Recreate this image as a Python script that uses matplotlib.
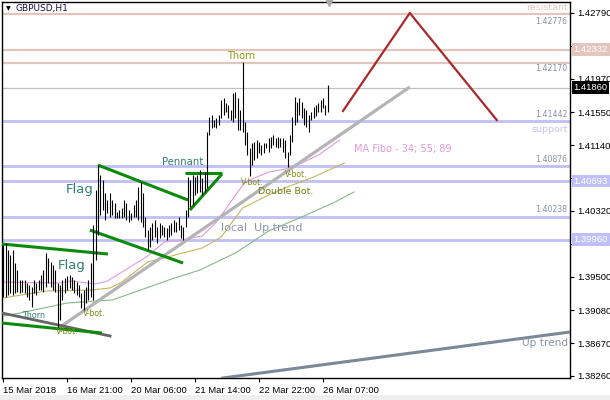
import matplotlib
matplotlib.use('Agg')
import matplotlib.pyplot as plt
from matplotlib.patches import Rectangle

# ---------------- data ----------------
highs = [
    1.39894, 1.39919, 1.39832, 1.39769, 1.39832, 1.39670, 1.39582, 1.39457, 1.39457, 1.39457,
    1.39420, 1.39395, 1.39370, 1.39457, 1.39420, 1.39457, 1.39520, 1.39582, 1.39794, 1.39732,
    1.39682, 1.39645, 1.39582, 1.39420, 1.39395, 1.39457, 1.39482, 1.39507, 1.39520, 1.39495,
    1.39457, 1.39432, 1.39395, 1.39295, 1.39332, 1.39370, 1.39457, 1.39670, 1.40143, 1.40580,
    1.40892, 1.40767,
    1.40705, 1.40543, 1.40456, 1.40543, 1.40456, 1.40418, 1.40306, 1.40331, 1.40356, 1.40456,
    1.40418, 1.40331, 1.40293, 1.40393, 1.40456, 1.40618, 1.40680, 1.40543, 1.40243, 1.40081,
    1.40118, 1.40168, 1.40206, 1.40118, 1.40168, 1.40143, 1.40118, 1.40106, 1.40143, 1.40168,
    1.40206, 1.40181, 1.40243, 1.40143, 1.40118, 1.40331, 1.40743,
    1.40705, 1.40767, 1.40743, 1.40767, 1.40830, 1.40730, 1.40805, 1.41305, 1.41492, 1.41517,
    1.41454, 1.41479, 1.41517, 1.41704, 1.41729, 1.41667, 1.41642, 1.41579, 1.41791, 1.41804,
    1.41729, 1.41579, 1.42178, 1.41429, 1.41305, 1.41105, 1.41167, 1.41180, 1.41205, 1.41180,
    1.41142, 1.41167, 1.41167, 1.41230, 1.41242, 1.41267, 1.41230, 1.41242, 1.41230, 1.41230,
    1.41205, 1.41055, 1.41267, 1.41492, 1.41741, 1.41679, 1.41729, 1.41679, 1.41604, 1.41579,
    1.41517, 1.41554, 1.41617, 1.41642, 1.41667, 1.41704, 1.41729, 1.41642, 1.41891,
]
lows = [
    1.39245, 1.39245, 1.39270, 1.39295, 1.39270, 1.39295, 1.39307, 1.39295, 1.39307, 1.39295,
    1.39245, 1.39208, 1.39120, 1.39295, 1.39270, 1.39332, 1.39332, 1.39307, 1.39370, 1.39420,
    1.39370, 1.39332, 1.39307, 1.38871, 1.38958, 1.39208, 1.39295, 1.39332, 1.39357, 1.39332,
    1.39295, 1.39270, 1.39245, 1.39108, 1.39083, 1.39170, 1.39208, 1.39245, 1.39208, 1.39707,
    1.40019, 1.40268,
    1.40331, 1.40206, 1.40293, 1.40243, 1.40268, 1.40231, 1.40231, 1.40231, 1.40231, 1.40243,
    1.40206, 1.40181, 1.40206, 1.40243, 1.40243, 1.40206, 1.40181, 1.40118, 1.39994, 1.39832,
    1.39869, 1.39956, 1.39994, 1.39919, 1.39981, 1.40019, 1.39994, 1.39956, 1.39994, 1.40019,
    1.40056, 1.40056, 1.40081, 1.39981, 1.39956, 1.40118, 1.40243,
    1.40368, 1.40393, 1.40518, 1.40543, 1.40555, 1.40518, 1.40555, 1.40605, 1.41267, 1.41354,
    1.41367, 1.41354, 1.41392, 1.41479, 1.41517, 1.41554, 1.41479, 1.41454, 1.41429, 1.41479,
    1.41330, 1.41330, 1.41305, 1.41142, 1.41017, 1.40755, 1.40892, 1.40955, 1.40980, 1.41042,
    1.41017, 1.41042, 1.41105, 1.41055, 1.41105, 1.41142, 1.41117, 1.41105, 1.41117, 1.41055,
    1.40980, 1.40867, 1.41017, 1.41180, 1.41392, 1.41429, 1.41517, 1.41479, 1.41392, 1.41367,
    1.41305, 1.41454, 1.41479, 1.41504, 1.41554, 1.41554, 1.41604, 1.41517, 1.41554,
]

# moving averages (MA Fibo 34 / 55 / 89), read at a few bars
ma34_idx = [0, 23, 29, 39, 44, 61, 68, 75, 84, 90, 96, 102, 106, 112, 119, 126, 133, 142]
ma34 = [1.39432, 1.39420, 1.39445, 1.39408, 1.39445, 1.39757, 1.39932, 1.39956, 1.40007,
        1.40181, 1.40431, 1.40680, 1.40730, 1.40805, 1.40843, 1.40918, 1.41017, 1.41205]
ma55_idx = [0, 18, 37, 45, 50, 61, 84, 92, 101, 112, 121, 131, 144]
ma55 = [1.39233, 1.39320, 1.39333, 1.39358, 1.39432, 1.39682, 1.39857, 1.39994, 1.40356,
        1.40518, 1.40631, 1.40743, 1.40918]
ma89_idx = [0, 7, 27, 46, 58, 71, 83, 98, 112, 126, 140, 148]
ma89 = [1.39008, 1.39046, 1.39171, 1.39208, 1.39333, 1.39470, 1.39582, 1.39795, 1.40069,
        1.40244, 1.40431, 1.40556]

# horizontal levels
resist_levels = [1.42776, 1.42332, 1.42170]
last_price = 1.41860
support_levels = [1.41442, 1.40876, 1.40693, 1.40238, 1.39960]

# trend / pattern lines: (bar index pairs, price pairs)
local_up_x, local_up_y = [24.0, 171.6], [1.38871, 1.41866]
dark_x, dark_y = [-0.5, 45.1], [1.39046, 1.38759]
flag1_lo_x, flag1_lo_y = [-0.5, 41.7], [1.38921, 1.38796]
flag1_hi_x, flag1_hi_y = [-0.5, 44.2], [1.39907, 1.39782]
flag2_hi_x, flag2_hi_y = [40.0, 78.0], [1.40892, 1.40456]
flag2_lo_x, flag2_lo_y = [36.6, 75.9], [1.40081, 1.39670]
penn_top_x, penn_top_y = [76.7, 92.3], [1.40793, 1.40793]
penn_lo_x, penn_lo_y = [78.8, 92.3], [1.40331, 1.40780]
proj_x, proj_y = [143.4, 171.6, 208.3], [1.41567, 1.42790, 1.41454]
uptrend_x, uptrend_y = [92.7, 239.2], [1.38235, 1.38809]

ytick_vals = [1.38260, 1.38670, 1.39080, 1.39500, 1.39910, 1.40320, 1.40730,
              1.41140, 1.41550, 1.41970, 1.42380, 1.42790]
# labels hidden behind the coloured price boxes in the reference
ytick_hidden = [1.39910, 1.40730, 1.42380]
xtick_idx = [0, 27, 54, 81, 108, 135]
xtick_labels = ['15 Mar 2018', '16 Mar 21:00', '20 Mar 06:00', '21 Mar 14:00',
                '22 Mar 22:00', '26 Mar 07:00']

# ---------------- figure ----------------
W, H = 610, 400
fig = plt.figure(figsize=(W / 100, H / 100), dpi=100)
fig.patch.set_facecolor('white')
ax = fig.add_axes([2 / W, 22 / H, 568 / W, 376 / H])
ax.set_xlim(-0.5, 239.2)
ax.set_ylim(1.38235, 1.42927)

RES_C = '#e2c6be'
SUP_C = '#c0c0f6'
TICK_FONT = 'Liberation Sans'

for p in resist_levels:
    ax.axhline(p, color=RES_C, lw=1.6, zorder=1)
for p in support_levels:
    ax.axhline(p, color=SUP_C, lw=2.0, zorder=1)
ax.axhline(last_price, color='#c0c0c0', lw=0.9, zorder=1)

# MAs
ax.plot(ma89_idx, ma89, color='#86b886', lw=0.8, zorder=2)
ax.plot(ma55_idx, ma55, color='#c8b460', lw=0.8, zorder=2)
ax.plot(ma34_idx, ma34, color='#e29ae2', lw=0.8, zorder=2)

# trend lines
ax.plot(local_up_x, local_up_y, color='#b4b4b4', lw=2.3, zorder=3, solid_capstyle='butt')
ax.plot(uptrend_x, uptrend_y, color='#7a8898', lw=2.2, zorder=3)
ax.plot(dark_x, dark_y, color='#666666', lw=2.0, zorder=3)
G = '#0c8a0c'
for xs, ys in [(flag1_lo_x, flag1_lo_y), (flag1_hi_x, flag1_hi_y),
               (flag2_hi_x, flag2_hi_y), (flag2_lo_x, flag2_lo_y),
               (penn_top_x, penn_top_y), (penn_lo_x, penn_lo_y)]:
    ax.plot(xs, ys, color=G, lw=2.2, zorder=4, solid_capstyle='butt')
ax.plot(proj_x, proj_y, color='#a82a2a', lw=1.6, zorder=4)

# bars
idx = list(range(len(highs)))
ax.vlines(idx, lows, highs, color='black', lw=0.8, zorder=5)

# shift marker
ax.plot([137.5], [1.42927], marker='v', color='#a8a8a8', ms=6, clip_on=False, zorder=6)

# axes styling
for s in ax.spines.values():
    s.set_color('black')
    s.set_linewidth(1.0)
ax.yaxis.tick_right()
ax.set_yticks(ytick_vals)
ax.set_yticklabels(['' if v in ytick_hidden else f'{v:.5f}' for v in ytick_vals],
                   fontfamily=TICK_FONT)
ax.tick_params(axis='y', direction='out', length=3, labelsize=6.8, pad=2, colors='black')
ax.set_xticks(xtick_idx)
ax.set_xticklabels(xtick_labels, fontfamily=TICK_FONT)
ax.tick_params(axis='x', direction='out', length=3, labelsize=6.8, pad=3)
for lab in ax.get_xticklabels():
    lab.set_ha('left')

# right axis price boxes
def price_box(p, fc):
    ax.annotate(f'{p:.5f}', xy=(1.0, p), xycoords=('axes fraction', 'data'),
                xytext=(2.5, 0), textcoords='offset points', va='center', ha='left',
                fontsize=6.8, fontfamily=TICK_FONT, color='white', zorder=10,
                annotation_clip=False,
                bbox=dict(boxstyle='square,pad=0.2', fc=fc, ec='none'))

price_box(1.42332, RES_C)
price_box(last_price, 'black')
price_box(1.40693, SUP_C)
price_box(1.39960, SUP_C)

# ---------------- texts ----------------
def ftext(x, y, s, **kw):
    kw.setdefault('va', 'center')
    fig.text(x / W, 1 - y / H, s, **kw)

ftext(8, 9, '\u25bc', fontsize=4.5, ha='center', color='black')
ftext(16, 9, 'GBPUSD,H1', fontsize=6.5, ha='left', color='#14143c')
ftext(241, 56, 'Thorn', fontsize=7, ha='center', color='#8a9a10')
ftext(183, 162, 'Pennant', fontsize=7.3, ha='center', color='#2e8070')
ftext(80, 190, 'Flag', fontsize=9.5, ha='center', color='#2e8070')
ftext(72, 266, 'Flag', fontsize=9.5, ha='center', color='#2e8070')
ftext(34, 316, 'Thorn', fontsize=5.8, ha='center', color='#2e8070')
ftext(67, 331, 'V-bot.', fontsize=5.5, ha='center', color='#7e8a10')
ftext(94, 313, 'V-bot.', fontsize=5.5, ha='center', color='#7e8a10')
ftext(252, 182, 'V-bot.', fontsize=5.5, ha='center', color='#7e8a10')
ftext(296, 174, 'V-bot.', fontsize=5.5, ha='center', color='#7e8a10')
ftext(286, 192, 'Double Bot.', fontsize=6.8, ha='center', color='#6e7f10')
ftext(354, 149, 'MA Fibo - 34; 55; 89', fontsize=7, ha='left', color='#e09ae0')
ftext(221, 228, 'local  Up trend', fontsize=8, ha='left', color='#8a94b0')
ftext(568, 7, 'resistant', fontsize=6.8, ha='right', color='#e6c8c4')
ftext(568, 130, 'support', fontsize=6.8, ha='right', color='#c4c4f4')
ftext(568, 343, 'Up trend', fontsize=7.6, ha='right', color='#8894a4')
for val, yy in [('1.42776', 21.5), ('1.42170', 68.5), ('1.41442', 114.5),
                ('1.40876', 160), ('1.40238', 210)]:
    ftext(567, yy, val, fontsize=5.6, ha='right', color='#8890a0')

fig.add_artist(Rectangle((0, 0), 1, 5 / H, transform=fig.transFigure,
                         facecolor='#efefef', edgecolor='none'))

fig.savefig('out.png', dpi=100)
